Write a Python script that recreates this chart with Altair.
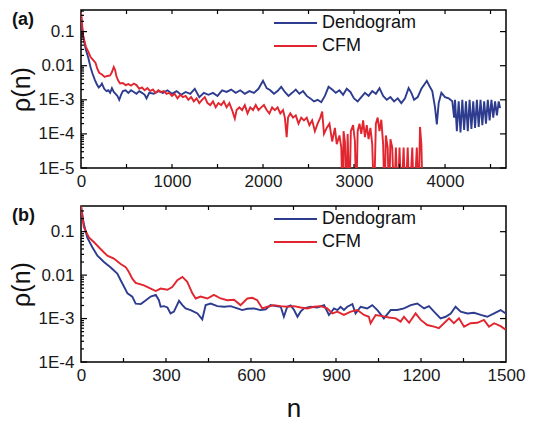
import altair as alt
import pandas as pd

# ---------------- data ----------------
# Panel (a)
a_dend_n = [0, 10, 25, 53, 80, 105, 125, 150, 175, 195, 215, 230, 255, 280, 300, 320, 340, 360, 380, 400,
            420, 440, 460, 490, 520, 550, 580, 610, 640, 670, 700, 720, 750, 800, 850, 900, 950, 1000, 1050, 1100,
            1150, 1200, 1250, 1300, 1350, 1400, 1450, 1500, 1550, 1600, 1650, 1700, 1750, 1800, 1850, 1900, 1950, 2000, 2040, 2080,
            2120, 2160, 2200, 2240, 2280, 2320, 2360, 2400, 2440, 2480, 2520, 2560, 2600, 2640, 2680, 2720, 2760, 2800, 2840, 2880,
            2920, 2960, 3000, 3040, 3080, 3120, 3160, 3200, 3240, 3280, 3320, 3360, 3400, 3440, 3480, 3520, 3560, 3600, 3630, 3660,
            3700, 3740, 3780, 3800, 3830, 3860, 3890, 3910, 3930, 3960, 4000, 4040, 4080, 4100, 4110, 4130, 4150, 4170, 4190, 4210,
            4230, 4250, 4270, 4290, 4310, 4330, 4350, 4370, 4390, 4410, 4430, 4450, 4470, 4490, 4510, 4530, 4550, 4570, 4590, 4605]
a_dend_v = [0.33, 0.15, 0.07, 0.03, 0.017, 0.009, 0.006, 0.004, 0.0028, 0.0023, 0.0026, 0.003, 0.0021, 0.0018, 0.0019, 0.0016, 0.0022, 0.0017, 0.0015, 0.0013,
            0.0010, 0.0014, 0.0018, 0.0019, 0.0016, 0.0019, 0.0017, 0.0015, 0.0018, 0.0016, 0.0014, 0.0011, 0.0016, 0.0015, 0.0018, 0.0016, 0.0019, 0.0015, 0.0018, 0.0014,
            0.0017, 0.0015, 0.0021, 0.0012, 0.0016, 0.0014, 0.0016, 0.0013, 0.0019, 0.0017, 0.0020, 0.0016, 0.0019, 0.0015, 0.0018, 0.0016, 0.0021, 0.0036, 0.0022, 0.0019,
            0.0015, 0.0018, 0.0024, 0.0017, 0.0013, 0.0016, 0.0020, 0.0015, 0.0018, 0.0013, 0.0011, 0.0009, 0.0010, 0.00085, 0.0013, 0.0024, 0.0020, 0.0016, 0.0019, 0.0014,
            0.0021, 0.0017, 0.0011, 0.0009, 0.0012, 0.0016, 0.0013, 0.0018, 0.0015, 0.0022, 0.0013, 0.0010, 0.0012, 0.0009, 0.0011, 0.0008, 0.0011, 0.0022, 0.0016, 0.0010,
            0.0012, 0.0021, 0.0030, 0.0036, 0.0025, 0.0018, 0.0006, 0.00019, 0.0008, 0.0016, 0.0012, 0.0011, 0.0009, 0.0003, 0.0010, 0.00012, 0.0009, 0.00011, 0.0010, 0.00013,
            0.0009, 0.00012, 0.0010, 0.00014, 0.0009, 0.00015, 0.0010, 0.00016, 0.0010, 0.00018, 0.0009, 0.0002, 0.0010, 0.00025, 0.0010, 0.0003, 0.0009, 0.00035, 0.0009, 0.00057]

a_cfm_n = [0, 10, 20, 40, 55, 80, 105, 130, 160, 180, 200, 230, 260, 290, 320, 340, 360, 375, 390, 410,
           430, 460, 490, 520, 550, 580, 610, 640, 670, 700, 730, 760, 790, 820, 850, 880, 910, 940, 970, 1000,
           1030, 1060, 1090, 1120, 1150, 1180, 1210, 1240, 1270, 1300, 1330, 1360, 1390, 1420, 1450, 1480, 1510, 1540, 1570, 1600,
           1630, 1660, 1690, 1710, 1740, 1770, 1800, 1830, 1860, 1890, 1920, 1950, 1980, 2010, 2040, 2070, 2100, 2130, 2160, 2190,
           2220, 2240, 2260, 2275, 2300, 2330, 2360, 2390, 2420, 2450, 2480, 2510, 2540, 2570, 2600, 2630, 2650, 2670, 2700, 2730,
           2760, 2790, 2810, 2840, 2860, 2875, 2885, 2900, 2915, 2930, 2950, 2965, 2990, 3010, 3025, 3040, 3060, 3080, 3100, 3120,
           3140, 3160, 3180, 3200, 3220, 3240, 3260, 3280, 3300, 3320, 3335, 3350, 3370, 3385, 3400, 3420, 3440, 3460, 3480, 3500,
           3520, 3545, 3565, 3590, 3610, 3640, 3660, 3690, 3710, 3725, 3740, 3755]
a_cfm_v = [0.36, 0.2, 0.085, 0.05, 0.035, 0.026, 0.018, 0.015, 0.012, 0.008, 0.0062, 0.0055, 0.0047, 0.0050, 0.0052, 0.0065, 0.0092, 0.0075, 0.0048, 0.0036,
           0.0030, 0.0031, 0.0027, 0.0029, 0.0026, 0.0030, 0.0027, 0.0021, 0.0023, 0.0019, 0.0022, 0.0018, 0.0020, 0.0016, 0.0019, 0.0017, 0.0018, 0.0015, 0.0016, 0.0013,
           0.0015, 0.0011, 0.0014, 0.0012, 0.0013, 0.0010, 0.0012, 0.0009, 0.0011, 0.0008, 0.0010, 0.0012, 0.0008, 0.0007, 0.0009, 0.0006, 0.0008, 0.0007, 0.0009, 0.0006,
           0.0008, 0.0005, 0.00028, 0.0005, 0.0006, 0.0005, 0.0007, 0.0004, 0.0006, 0.0005, 0.0007, 0.0005, 0.0006, 0.0007, 0.0005, 0.0004, 0.0006, 0.0005, 0.0006, 0.0004,
           0.0005, 0.0003, 0.00008, 0.0003, 0.0004, 0.0003, 0.00035, 0.0002, 0.0003, 0.00025, 0.0003, 0.00018, 0.00025, 0.00012, 0.0002, 0.0003, 0.00045, 0.0001, 0.00015, 0.0002,
           0.00006, 0.00015, 0.00005, 0.00009, 0.00004, 1e-6, 0.00012, 0.00006, 1e-6, 0.0001, 1e-6, 0.00012, 0.00018, 0.00006, 1e-6, 0.00012, 0.0002, 0.0001, 0.00025, 0.00008,
           0.00018, 0.00007, 0.00015, 0.00005, 1e-6, 0.0002, 0.0003, 0.00012, 0.00026, 0.00005, 1e-6, 0.00009, 0.00004, 1e-6, 0.00007, 0.00004, 1e-6, 0.00004, 1e-6, 0.00004,
           1e-6, 0.00004, 1e-6, 0.00004, 1e-6, 0.00004, 1e-6, 0.00004, 1e-6, 0.00016, 0.00005, 1e-6]

# Panel (b)
b_dend_n = [0, 10, 22, 40, 58, 81, 105, 128, 140, 152, 164, 181, 193, 211, 222, 246, 264, 275, 281, 293,
            305, 316, 328, 346, 358, 369, 387, 411, 428, 440, 458, 481, 505, 528, 552, 569, 587, 611, 634, 652,
            669, 687, 705, 716, 728, 740, 752, 764, 775, 787, 811, 834, 858, 875, 893, 905, 916, 928, 940, 958,
            969, 987, 1010, 1028, 1046, 1069, 1093, 1116, 1140, 1164, 1187, 1211, 1228, 1246, 1269, 1287, 1305, 1322, 1340, 1364,
            1387, 1411, 1434, 1458, 1481, 1499]
b_dend_v = [0.39, 0.15, 0.074, 0.044, 0.028, 0.020, 0.015, 0.0108, 0.0076, 0.0054, 0.0038, 0.0032, 0.0022, 0.00215, 0.00243, 0.0032, 0.0035, 0.00265, 0.00187, 0.00193,
            0.0018, 0.00131, 0.00144, 0.00256, 0.00204, 0.00171, 0.00157, 0.00131, 0.00096, 0.00204, 0.00222, 0.00193, 0.00187, 0.00193, 0.00171, 0.00157, 0.00168, 0.00171, 0.00157, 0.00162,
            0.00204, 0.00193, 0.00187, 0.0011, 0.00187, 0.0020, 0.00157, 0.0011, 0.00144, 0.00171, 0.00187, 0.0018, 0.00204, 0.00121, 0.00171, 0.00157, 0.00187, 0.00157, 0.00187, 0.00215,
            0.00131, 0.00187, 0.00171, 0.00204, 0.00157, 0.00101, 0.00157, 0.00157, 0.00171, 0.00204, 0.00222, 0.00171, 0.00193, 0.00144, 0.00101, 0.0011, 0.00131, 0.00187, 0.00144, 0.00131,
            0.00136, 0.00121, 0.0011, 0.00131, 0.00157, 0.00131]

b_cfm_n = [0, 10, 28, 46, 69, 93, 116, 140, 158, 169, 181, 193, 222, 246, 264, 281, 305, 322, 340, 358,
           375, 393, 405, 422, 446, 469, 493, 516, 540, 563, 587, 605, 622, 640, 658, 681, 705, 728, 752, 775,
           799, 822, 846, 869, 887, 905, 928, 952, 975, 999, 1016, 1022, 1040, 1064, 1087, 1111, 1128, 1140, 1158, 1181,
           1199, 1222, 1246, 1263, 1281, 1299, 1316, 1334, 1352, 1375, 1399, 1422, 1440, 1458, 1481, 1499]
b_cfm_v = [0.39, 0.126, 0.074, 0.057, 0.040, 0.028, 0.024, 0.018, 0.0153, 0.0118, 0.0083, 0.0066, 0.0058, 0.0049, 0.0043, 0.0049, 0.0046, 0.0053, 0.0076, 0.0091,
           0.0070, 0.0038, 0.0029, 0.0032, 0.0029, 0.0035, 0.0029, 0.00265, 0.0027, 0.00204, 0.0029, 0.0030, 0.00265, 0.00171, 0.00187, 0.00204, 0.00193, 0.00187, 0.00193, 0.0018,
           0.00171, 0.00187, 0.00193, 0.00171, 0.00131, 0.00144, 0.00121, 0.00144, 0.00157, 0.00121, 0.0011, 0.00078, 0.00121, 0.00114, 0.00106, 0.00101, 0.00085, 0.0011, 0.0008, 0.00131,
           0.00093, 0.00071, 0.00065, 0.0006, 0.00078, 0.00101, 0.00078, 0.00101, 0.00065, 0.00078, 0.0008, 0.00093, 0.00065, 0.00078, 0.00067, 0.00055]

series_names = ["Dendogram", "CFM"]
a_xticks = [0, 1000, 2000, 3000, 4000]
b_xticks = [0, 300, 600, 900, 1200, 1500]
a_yticks = [1e-5, 1e-4, 1e-3, 1e-2, 1e-1]
b_yticks = [1e-4, 1e-3, 1e-2, 1e-1]

# ---------------- style ----------------
FONT = "Liberation Sans"
BLUE = "#2d3c8f"
RED = "#e1262f"
W = 425
LABEL_EXPR = ("datum.value >= 0.05 ? '0.1' : datum.value >= 0.005 ? '0.01' : "
              "'1E-' + round(-log(datum.value) / LN10)")


def minor_log(lo, hi):
    out = []
    d = lo
    while d < hi:
        for m in range(2, 10):
            v = m * d
            if v < hi:
                out.append(v)
        d *= 10
    return out


def panel(dn, dv, cn, cv, xdom, ydom, h, xlabels, xstep, ymajor, tag, xtitle):
    df = pd.concat([
        pd.DataFrame({"n": dn, "rho": dv, "s": series_names[0]}),
        pd.DataFrame({"n": cn, "rho": cv, "s": series_names[1]}),
    ])
    xs = alt.Scale(domain=xdom, nice=False, zero=False)
    ys = alt.Scale(type="log", domain=ydom, nice=False)

    xaxis_kw = dict(values=xlabels, format="d", ticks=False, domain=False, grid=False,
                    labelFontSize=17, labelPadding=5, labelColor="#1a1a1a",
                    labelFont=FONT, labelFlush=False)
    if xtitle:
        xaxis = alt.Axis(title=xtitle, titleFontSize=26, titleFont=FONT,
                         titleFontWeight="normal", titlePadding=12,
                         titleColor="#111", **xaxis_kw)
    else:
        xaxis = alt.Axis(title=None, **xaxis_kw)

    lines = alt.Chart(df).mark_line(strokeWidth=1.9, clip=True).encode(
        x=alt.X("n:Q", scale=xs, axis=xaxis),
        y=alt.Y("rho:Q", scale=ys, axis=alt.Axis(
            values=ymajor, labelExpr=LABEL_EXPR, ticks=False, domain=False, grid=False,
            labelFontSize=17, labelPadding=7, labelColor="#1a1a1a", labelFont=FONT,
            title="ρ(n)", titleFontSize=25, titleFont=FONT, titleFontWeight="normal",
            titlePadding=4, titleColor="#111")),
        color=alt.Color("s:N", scale=alt.Scale(domain=series_names, range=[BLUE, RED]), legend=None),
    )

    minors = minor_log(ydom[0], ydom[1])
    xt = [v for v in range(0, int(xdom[1]) + 1, xstep) if 0 < v < xdom[1]]

    def yrule(vals, x1, x2):
        return alt.Chart(pd.DataFrame({"v": vals})).mark_rule(color="black", strokeWidth=1.2).encode(
            y=alt.Y("v:Q", scale=ys), x=alt.value(x1), x2=alt.value(x2))

    def xrule(vals, y1, y2):
        return alt.Chart(pd.DataFrame({"v": vals})).mark_rule(color="black", strokeWidth=1.2).encode(
            x=alt.X("v:Q", scale=xs), y=alt.value(y1), y2=alt.value(y2))

    ticks = [
        yrule(ymajor, 0, 6),
        yrule(minors, 0, 3),
        yrule(ymajor, W, W - 6),
        xrule(xt, h, h - 4),
        xrule(xt, 0, 4),
    ]

    leg = []
    for i, (name, col) in enumerate(zip(series_names, [BLUE, RED])):
        yy = 13 + 23 * i
        d = pd.DataFrame({"s": [name]})
        leg.append(alt.Chart(d).mark_rule(color=col, strokeWidth=2).encode(
            x=alt.value(193), x2=alt.value(236), y=alt.value(yy)))
        leg.append(alt.Chart(d).mark_text(align="left", baseline="middle", fontSize=18,
                                          font=FONT, color="#111").encode(
            text="s:N", x=alt.value(241), y=alt.value(yy)))

    lab = alt.Chart(pd.DataFrame({"t": [tag]})).mark_text(
        align="left", baseline="middle", fontSize=18, fontWeight="bold", font=FONT, color="#111"
    ).encode(text="t:N", x=alt.value(-69), y=alt.value(10))

    return alt.layer(lines, *ticks, *leg, lab).properties(width=W, height=h)


pa = panel(a_dend_n, a_dend_v, a_cfm_n, a_cfm_v, [0, 4670], [1e-5, 0.43], 158,
           a_xticks, 500, a_yticks, "(a)", None)
pb = panel(b_dend_n, b_dend_v, b_cfm_n, b_cfm_v, [0, 1500], [1e-4, 0.39], 156,
           b_xticks, 150, b_yticks, "(b)", "n")

chart = alt.vconcat(pa, pb, spacing=14).properties(
    padding={"left": 0, "top": 0, "right": 4, "bottom": 0}
).configure_view(stroke="black", strokeWidth=1.5)

chart.save("out.html", embed_options={"renderer": "svg", "actions": False})
